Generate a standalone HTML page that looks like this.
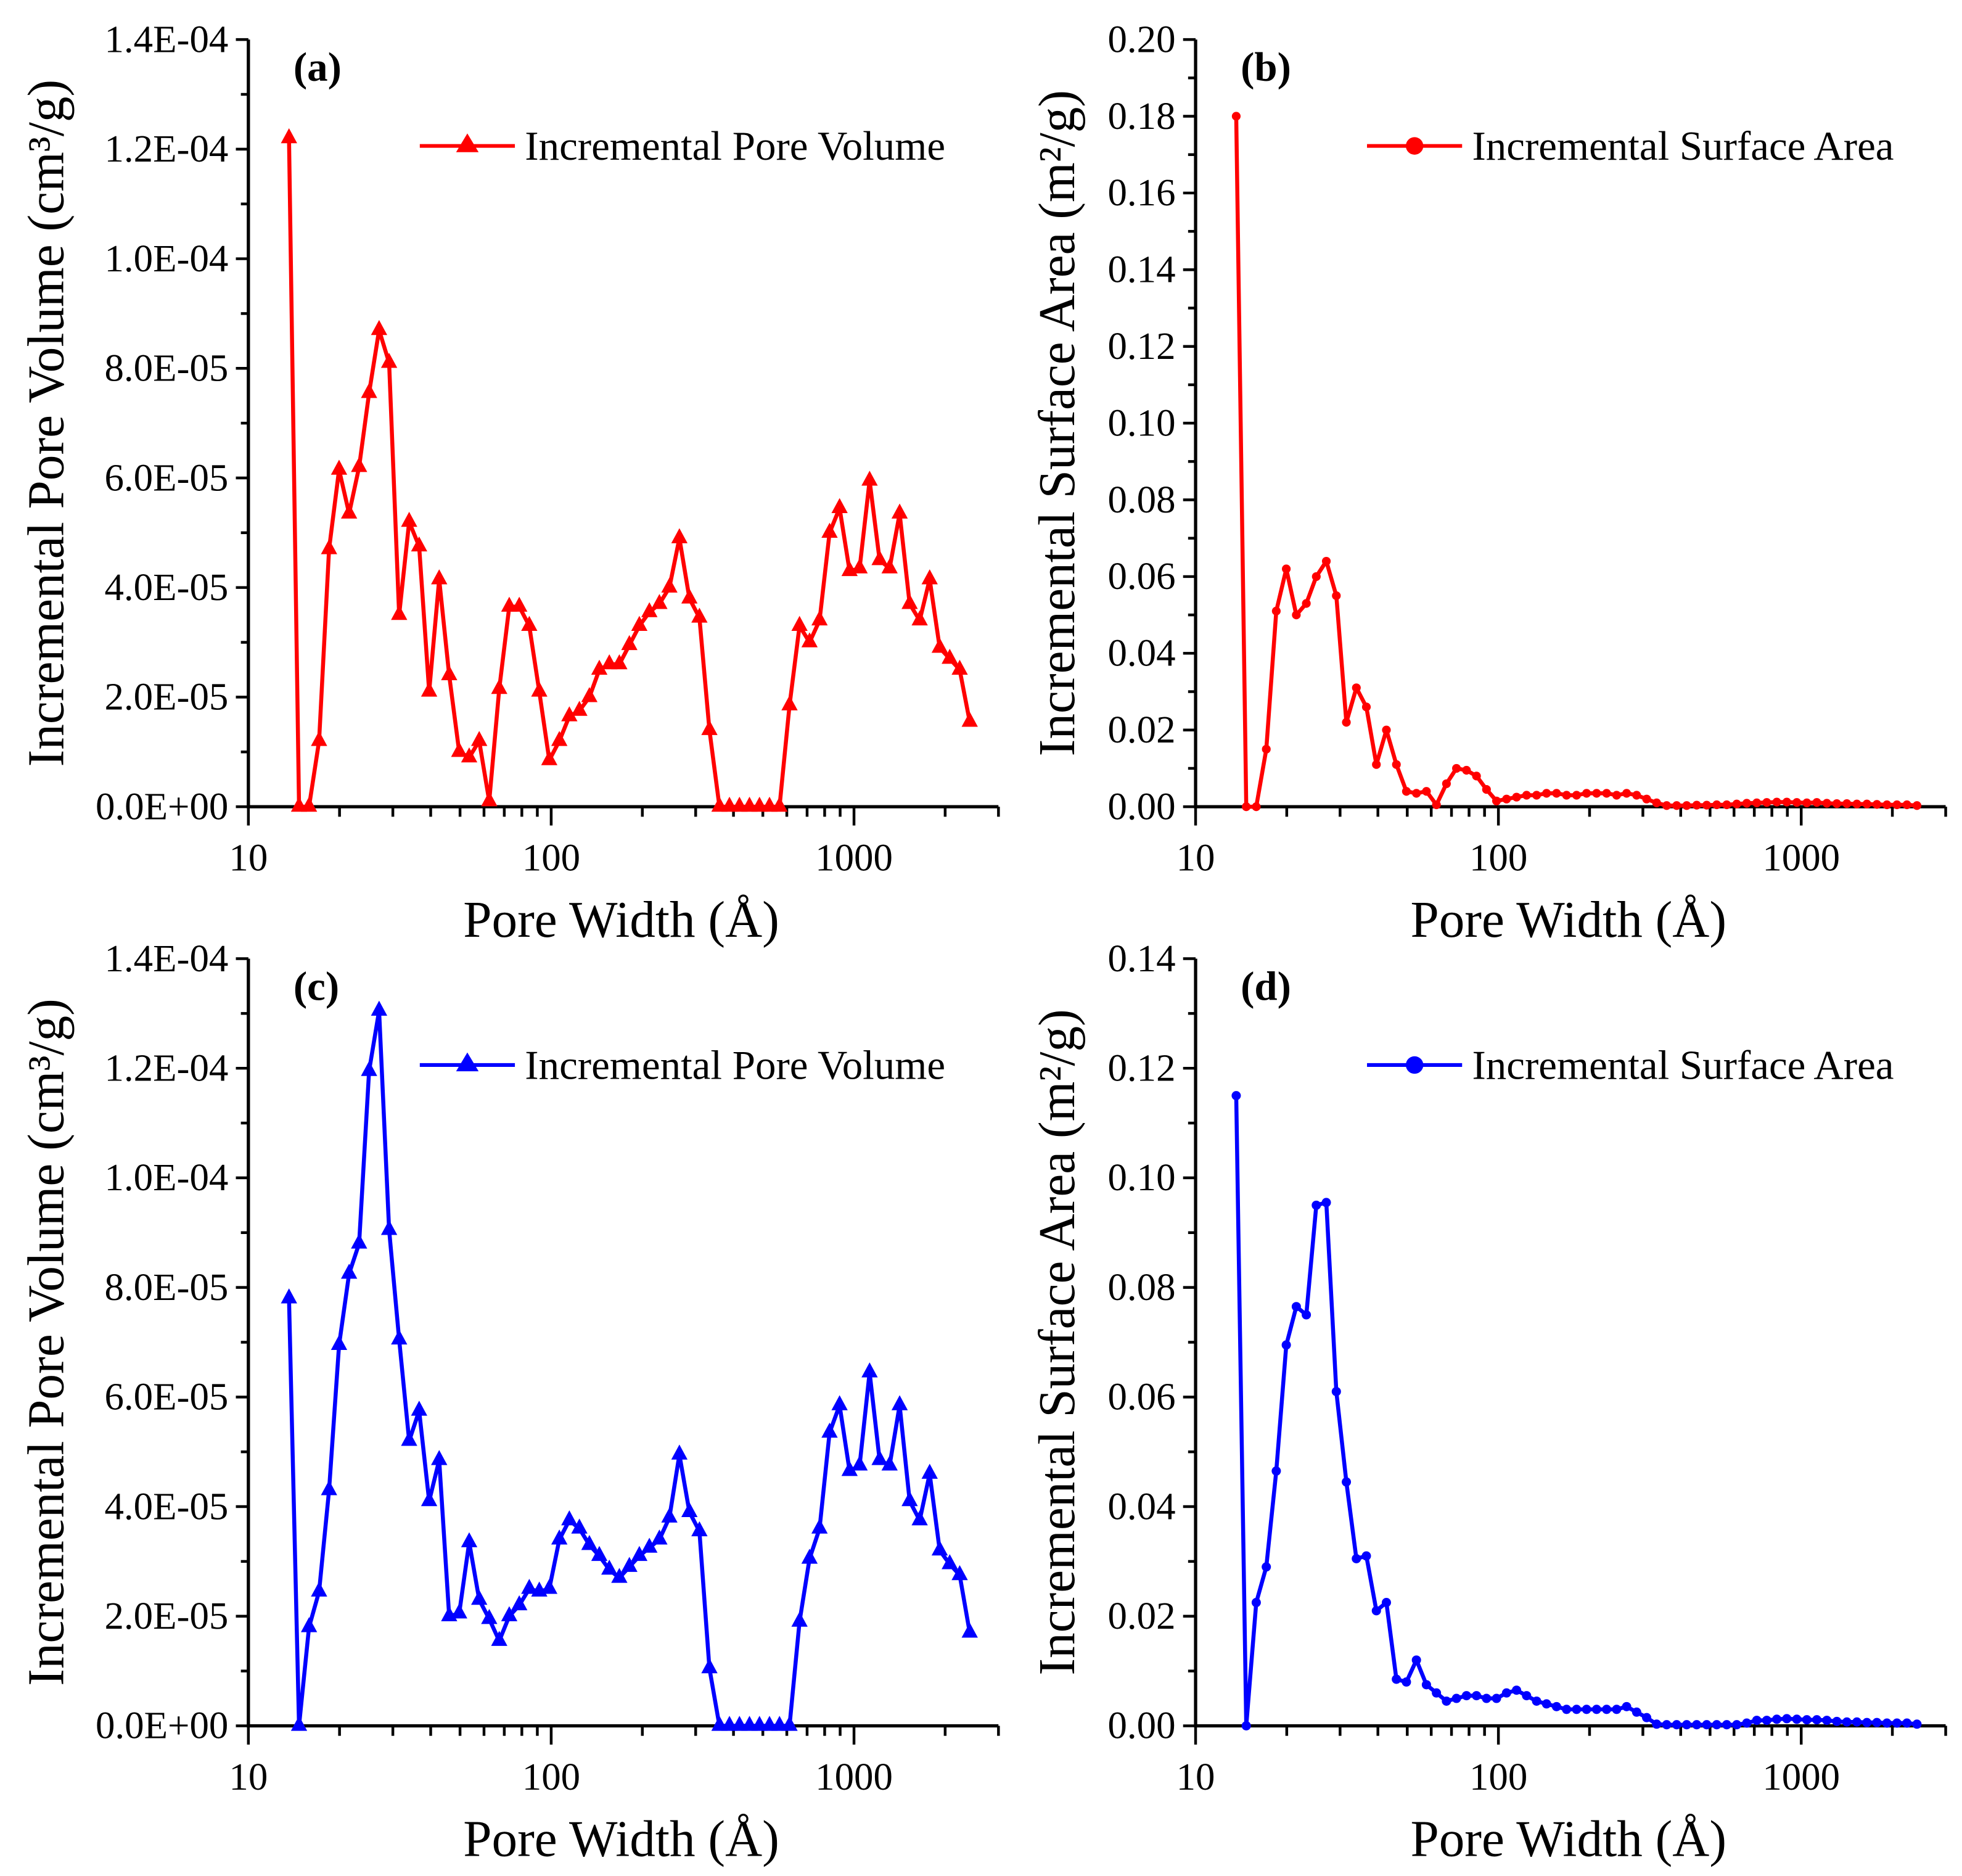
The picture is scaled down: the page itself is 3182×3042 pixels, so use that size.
<!DOCTYPE html>
<html><head><meta charset="utf-8"><style>
html,body{margin:0;padding:0;background:#fff;}
svg{display:block;}
svg text{font-family:"Liberation Serif","Times New Roman",serif;fill:#000;}
</style></head><body>
<svg id="fig" width="3182" height="3042" viewBox="0 0 1568 1499" xmlns="http://www.w3.org/2000/svg" font-family="Liberation Serif, Times New Roman, serif"></svg>
<script>
const widths=[13.62,14.70,15.86,17.12,18.47,19.93,21.51,23.21,25.04,27.02,29.16,31.47,33.96,36.64,39.54,42.67,46.04,49.68,53.61,57.85,62.43,67.37,72.70,78.45,84.65,91.35,98.57,106.4,114.8,123.9,133.7,144.2,155.6,167.9,181.2,195.5,211.0,227.7,245.7,265.1,286.1,308.7,333.1,359.5,387.9,418.6,451.7,487.4,526.0,567.6,612.5,660.9,713.2,769.6,830.5,896.2,967.1,1043.6,1126,1215,1311,1415,1527,1648,1778,1919,2071,2234,2411];
const volA=[12.2,0,0,1.2,4.7,6.15,5.35,6.2,7.55,8.7,8.1,3.5,5.2,4.75,2.1,4.15,2.4,1.0,0.9,1.2,0.1,2.15,3.65,3.65,3.3,2.1,0.85,1.2,1.65,1.75,2.0,2.5,2.6,2.6,2.95,3.3,3.55,3.7,4.0,4.9,3.8,3.45,1.4,0,0,0,0,0,0,0,1.85,3.3,3.0,3.4,5.0,5.45,4.3,4.35,5.95,4.5,4.35,5.35,3.7,3.4,4.15,2.9,2.7,2.5,1.55];
const areaB=[0.18,0,0,0.015,0.051,0.062,0.050,0.053,0.060,0.064,0.055,0.022,0.031,0.026,0.011,0.020,0.011,0.004,0.0035,0.004,0.0005,0.006,0.010,0.0095,0.008,0.0045,0.0015,0.002,0.0025,0.003,0.003,0.0035,0.0035,0.003,0.003,0.0035,0.0035,0.0035,0.003,0.0035,0.003,0.002,0.001,0.0003,0.0003,0.0003,0.0004,0.0004,0.0005,0.0005,0.0007,0.0009,0.001,0.0011,0.0012,0.0012,0.0011,0.001,0.0011,0.0009,0.0008,0.0008,0.0007,0.0007,0.0006,0.0005,0.0005,0.0005,0.0003];
const volC=[7.8,0,1.8,2.45,4.3,6.95,8.25,8.8,11.95,13.05,9.05,7.05,5.2,5.75,4.1,4.85,2.0,2.05,3.35,2.3,1.95,1.55,2.0,2.2,2.5,2.45,2.5,3.4,3.75,3.6,3.3,3.1,2.85,2.7,2.9,3.1,3.25,3.4,3.8,4.95,3.9,3.55,1.05,0,0,0,0,0,0,0,0,1.9,3.05,3.6,5.35,5.85,4.65,4.75,6.45,4.85,4.75,5.85,4.1,3.75,4.6,3.2,2.95,2.75,1.7];
const areaD=[0.115,0,0.0225,0.029,0.0465,0.0695,0.0765,0.075,0.095,0.0955,0.061,0.0445,0.0305,0.031,0.021,0.0225,0.0085,0.008,0.012,0.0075,0.006,0.0045,0.005,0.0055,0.0055,0.005,0.005,0.006,0.0065,0.0055,0.0045,0.004,0.0035,0.003,0.003,0.003,0.003,0.003,0.003,0.0035,0.0025,0.0015,0.0003,0.0002,0.0002,0.0002,0.0002,0.0002,0.0002,0.0002,0.0002,0.0005,0.001,0.001,0.0012,0.0013,0.0012,0.0011,0.0011,0.001,0.0008,0.0007,0.0007,0.0006,0.0006,0.0005,0.0005,0.0005,0.0003];
const xTickLabels=["10","100","1000"];
const volTicks=["0.0E+00","2.0E-05","4.0E-05","6.0E-05","8.0E-05","1.0E-04","1.2E-04","1.4E-04"];
const areaTicksB=["0.00","0.02","0.04","0.06","0.08","0.10","0.12","0.14","0.16","0.18","0.20"];
const areaTicksD=["0.00","0.02","0.04","0.06","0.08","0.10","0.12","0.14"];

const NS="http://www.w3.org/2000/svg";
const svg=document.getElementById('fig');
const FF='"Liberation Serif","Times New Roman",serif';
function el(tag,attrs,parent,txt){const e=document.createElementNS(NS,tag);for(const k in attrs)e.setAttribute(k,attrs[k]);if(tag==='text')e.setAttribute('font-family',FF);if(txt!==undefined)e.textContent=txt;(parent||svg).appendChild(e);return e;}

function panel(o){
  const g=el('g',{});
  
  
  const L=o.x0, R=o.x0+2.477*242, B=o.y0, T=o.y0-613;
  const xs=v=>L+(Math.log10(v)-1)*242;
  const ys=v=>B-(v/o.ymax)*(B-T);
  const ax=el('path',{d:`M${L},${T}V${B}H${R}`,stroke:'#000','stroke-width':2.6,fill:'none'},g);
  
  
  for(let d=10;d<=1000;d*=10){for(let m=1;m<=9;m++){const v=d*m;if(v>3000)break;const x=xs(v);el('line',{x1:x,x2:x,y1:B,y2:B+(m==1?15:8),stroke:'#000','stroke-width':2.2},g);}}
  xTickLabels.forEach((t,i)=>{const lb=el('text',{x:xs(Math.pow(10,i+1)),y:B+51,'font-size':31,'text-anchor':'middle'},g,t);
    
    });
  const n=o.ticks.length-1;
  for(let i=0;i<=2*n;i++){const y=B-(B-T)*i/(2*n);el('line',{x1:L,x2:L-(i%2?6:10),y1:y,y2:y,stroke:'#000','stroke-width':2.2},g);}
  o.ticks.forEach((t,i)=>{const lb=el('text',{x:L-16,y:B-(B-T)*i/n+10,'font-size':31,'text-anchor':'end'},g,t);
    
    });
  const xt=el('text',{x:L+298,y:B+104,'font-size':41,'text-anchor':'middle'},g,'Pore Width (Å)');
  
  
  const yt=el('text',{x:0,y:0,'font-size':41,'text-anchor':'middle',transform:`translate(${L-o.tOff},${(T+B)/2}) rotate(-90)`},g,o.ytitle);
  
  
  const pl=el('text',{x:L+36,y:T+33,'font-size':33,'font-weight':'bold'},g,o.label);
  
  
  const pts=o.vals.map((v,i)=>[xs(widths[i]),ys(v*o.k)]);
  const line=el('polyline',{points:pts.map(p=>p.join(',')).join(' '),fill:'none',stroke:o.color,'stroke-width':3.2,'stroke-linejoin':'round'},g);
  
  
  const mk=(x,y,par)=>{ if(o.tri) return el('path',{d:`M${x},${y-8}L${x+6.5},${y+4}L${x-6.5},${y+4}Z`,fill:o.color},par); return el('circle',{cx:x,cy:y,r:o.r,fill:o.color},par);};
  pts.forEach(p=>{const m=mk(p[0],p[1],g);
    
    });
  const lg=el('g',{},g);
  
  
  const ly=T+85;
  el('line',{x1:L+137,x2:L+213,y1:ly,y2:ly,stroke:o.color,'stroke-width':3},lg);
  if(o.tri) el('path',{d:`M${L+175},${ly-10}L${L+184},${ly+5}L${L+166},${ly+5}Z`,fill:o.color},lg);
  else el('circle',{cx:L+175,cy:ly,r:7,fill:o.color},lg);
  el('text',{x:L+221,y:ly+11,'font-size':33},lg,o.legend);
}
const volTitle='Incremental Pore Volume (cm³/g)';
const areaTitle='Incremental Surface Area (m²/g)';
panel({name:'panel-a',x0:198.5,y0:644.6,ymax:1.4e-4,k:1e-5,vals:volA,ticks:volTicks,color:'#ff0000',tri:true,label:'(a)',legend:'Incremental Pore Volume',ytitle:volTitle,tOff:148});
panel({name:'panel-b',x0:955.5,y0:644.6,ymax:0.2,k:1,vals:areaB,ticks:areaTicksB,color:'#ff0000',tri:false,r:3.5,label:'(b)',legend:'Incremental Surface Area',ytitle:areaTitle,tOff:97});
panel({name:'panel-c',x0:198.5,y0:1379,ymax:1.4e-4,k:1e-5,vals:volC,ticks:volTicks,color:'#0000ff',tri:true,label:'(c)',legend:'Incremental Pore Volume',ytitle:volTitle,tOff:148});
panel({name:'panel-d',x0:955.5,y0:1379,ymax:0.14,k:1,vals:areaD,ticks:areaTicksD,color:'#0000ff',tri:false,r:3.7,label:'(d)',legend:'Incremental Surface Area',ytitle:areaTitle,tOff:97});
</script>
</body></html>
